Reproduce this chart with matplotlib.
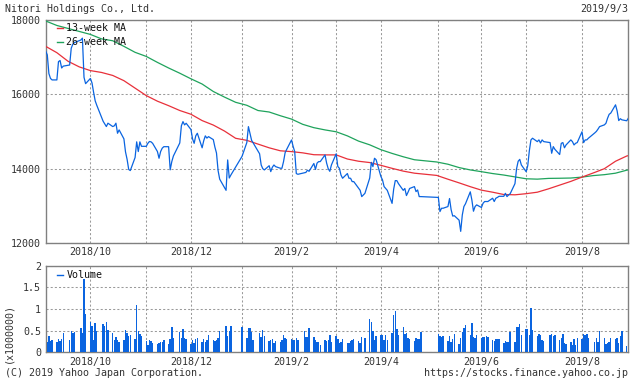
import matplotlib
matplotlib.use('Agg')
import matplotlib.pyplot as plt
import pandas as pd

# ---------------- data ----------------
holidays = ['2018-09-17', '2018-09-24', '2018-10-08', '2018-11-23', '2018-12-24',
            '2018-12-31', '2019-01-01', '2019-01-02', '2019-01-03', '2019-01-14',
            '2019-02-11', '2019-03-21', '2019-04-29', '2019-04-30', '2019-05-01',
            '2019-05-02', '2019-05-03', '2019-05-06', '2019-07-15', '2019-08-12']
trading_days = pd.bdate_range('2018-09-03', '2019-09-03').difference(pd.to_datetime(holidays))

close_sep18 = [17150, 17050, 16550, 16420, 16380, 16380, 16870, 16900, 16700, 16750,
               16780, 17230, 17340, 17380, 17450, 17500, 16450, 16280]
close_oct18 = [16420, 16300, 16050, 15820, 15700, 15270, 15200, 15130, 15220, 15130,
               15150, 15220, 14950, 15040, 14800, 14450, 14250, 13980, 13950, 14300,
               14720, 14460]
close_nov18 = [14720, 14600, 14600, 14680, 14730, 14720, 14680, 14460, 14280, 14460,
               14550, 14590, 14590, 13970, 14190, 14340, 14690, 15150, 15263, 15175,
               15218]
close_dec18 = [15050, 14800, 14680, 14880, 14950, 14560, 14750, 14880, 14820, 14860,
               14780, 14580, 14420, 13950, 13720, 13420, 14235, 13750, 13830]
close_jan19 = [14330, 14700, 15128, 14950, 14760, 14690, 14400, 14100, 14000, 13967,
               14080, 13922, 14040, 14100, 14056, 14012, 14012, 14190, 14430]
close_feb19 = [14520, 14770, 14600, 14458, 13870, 13850, 13890, 13900, 13960, 13930,
               14140, 13980, 14150, 14190, 14190, 14370, 14150, 14000, 13930]
close_mar19 = [14100, 14400, 14060, 14010, 13830, 13744, 13870, 13744, 13744, 13654,
               13654, 13480, 13420, 13252, 13340, 13750, 14170, 14056, 14280, 14240]
close_apr19 = [13790, 13700, 13520, 13470, 13420, 13070, 13450, 13680, 13680, 13600,
               13420, 13470, 13280, 13370, 13470, 13520, 13386, 13430, 13252, 13252]
close_may19 = [13230, 12850, 12940, 12940, 12985, 13200, 12900, 12730, 12740, 12620,
               12320, 12760, 12985, 13060, 13380, 13160, 12860, 12985, 13030]
close_jun19 = [12960, 13073, 13120, 13120, 13120, 13208, 13120, 13208, 13230, 13260,
               13260, 13340, 13252, 13296, 13330, 13600, 14000, 14200, 14250, 14100]
close_jul19 = [13920, 14080, 14480, 14772, 14817, 14726, 14772, 14690, 14772, 14726,
               14700, 14414, 14592, 14520, 14380, 14680, 14700, 14560, 14637, 14772,
               14726, 14637]
close_aug19 = [14682, 14700, 14990, 14700, 14772, 14772, 14817, 14960, 15000, 15060,
               15128, 15175, 15218, 15352, 15458, 15490, 15712, 15550, 15290, 15340,
               15310]
close_sep19 = [15285, 15352]
close = (close_sep18 + close_oct18 + close_nov18 + close_dec18 + close_jan19 + close_feb19 +
         close_mar19 + close_apr19 + close_may19 + close_jun19 + close_jul19 + close_aug19 +
         close_sep19)

# volume in units of 1,000,000 shares
vol_sep18 = [0.25, 0.24, 0.38, 0.26, 0.28, 0.24, 0.30, 0.26, 0.31, 0.45,
             0.28, 0.50, 0.45, 0.48, 0.56, 0.45, 1.68, 0.88]
vol_oct18 = [0.70, 0.60, 0.28, 0.68, 0.50, 0.65, 0.60, 0.70, 0.52, 0.45,
             0.28, 0.36, 0.28, 0.25, 0.28, 0.52, 0.45, 0.38, 0.41, 0.31,
             1.09, 0.50]
vol_nov18 = [0.42, 0.38, 0.26, 0.16, 0.28, 0.26, 0.22, 0.19, 0.21, 0.24,
             0.24, 0.28, 0.19, 0.31, 0.58, 0.32, 0.47, 0.33, 0.54, 0.33, 0.30]
vol_dec18 = [0.19, 0.28, 0.22, 0.31, 0.32, 0.24, 0.31, 0.24, 0.28, 0.40,
             0.28, 0.26, 0.28, 0.33, 0.49, 0.61, 0.38, 0.49, 0.61]
vol_jan19 = [0.58, 0.33, 0.56, 0.56, 0.47, 0.28, 0.45, 0.35, 0.52, 0.38,
             0.26, 0.28, 0.31, 0.22, 0.26, 0.24, 0.28, 0.40, 0.33]
vol_feb19 = [0.31, 0.31, 0.28, 0.28, 0.33, 0.28, 0.49, 0.35, 0.35, 0.56,
             0.35, 0.28, 0.24, 0.24, 0.17, 0.28, 0.26, 0.28, 0.40]
vol_mar19 = [0.24, 0.38, 0.31, 0.22, 0.24, 0.31, 0.22, 0.22, 0.26, 0.28,
             0.31, 0.26, 0.22, 0.35, 0.33, 0.77, 0.70, 0.49, 0.28, 0.38]
vol_apr19 = [0.40, 0.40, 0.28, 0.40, 0.28, 0.45, 0.86, 0.95, 0.54, 0.40,
             0.58, 0.42, 0.45, 0.33, 0.31, 0.26, 0.33, 0.31, 0.31, 0.47]
vol_may19 = [0.42, 0.38, 0.35, 0.38, 0.26, 0.38, 0.24, 0.31, 0.42, 0.19,
             0.33, 0.47, 0.56, 0.63, 0.40, 0.68, 0.35, 0.33, 0.40]
vol_jun19 = [0.33, 0.35, 0.35, 0.38, 0.35, 0.28, 0.26, 0.31, 0.31, 0.31,
             0.22, 0.26, 0.24, 0.24, 0.47, 0.24, 0.58, 0.58, 0.65, 0.40]
vol_jul19 = [0.54, 0.54, 0.40, 1.02, 0.51, 0.38, 0.42, 0.40, 0.28, 0.26,
             0.40, 0.42, 0.38, 0.40, 0.28, 0.33, 0.42, 0.22, 0.19, 0.24,
             0.17, 0.31]
vol_aug19 = [0.17, 0.33, 0.31, 0.42, 0.40, 0.42, 0.33, 0.24, 0.33, 0.24,
             0.49, 0.33, 0.19, 0.22, 0.24, 0.33, 0.31, 0.33, 0.22, 0.38, 0.49]
vol_sep19 = [0.15, 0.17]
volume = (vol_sep18 + vol_oct18 + vol_nov18 + vol_dec18 + vol_jan19 + vol_feb19 +
          vol_mar19 + vol_apr19 + vol_may19 + vol_jun19 + vol_jul19 + vol_aug19 + vol_sep19)

# moving averages read weekly (Mondays from 2018-09-03) plus the last day
ma_dates = list(pd.date_range('2018-09-03', periods=53, freq='7D')) + [pd.Timestamp('2019-09-03')]
ma13 = [17280, 17110, 16880, 16730, 16630, 16580, 16500, 16360, 16160, 15960,
        15810, 15690, 15560, 15460, 15290, 15170, 15010, 14815, 14760, 14660,
        14560, 14480, 14458, 14425, 14375, 14370, 14370, 14260, 14200, 14165,
        14090, 14010, 13935, 13880, 13850, 13820, 13718, 13620, 13518, 13425,
        13370, 13308, 13300, 13330, 13370, 13460, 13560, 13660, 13775, 13885,
        14000, 14200, 14340, 14350]
ma26 = [17960, 17840, 17760, 17680, 17600, 17480, 17430, 17280, 17120, 17010,
        16850, 16700, 16560, 16410, 16270, 16070, 15920, 15780, 15700, 15560,
        15520, 15420, 15330, 15190, 15100, 15040, 14990, 14880, 14740, 14640,
        14510, 14410, 14320, 14240, 14210, 14180, 14120, 14030, 13967, 13920,
        13870, 13830, 13780, 13730, 13720, 13740, 13744, 13750, 13775, 13815,
        13840, 13880, 13960, 13967]

grid_dates = ['2018-10-01', '2018-11-05', '2018-12-03', '2019-01-04', '2019-02-04',
              '2019-03-04', '2019-04-01', '2019-05-07', '2019-06-03', '2019-07-01',
              '2019-08-05']
grid_labels = ['2018/10', '', '2018/12', '', '2019/2', '', '2019/4', '', '2019/6', '', '2019/8']
price_ticks = [12000, 14000, 16000, 18000]
vol_ticks = [0, 0.5, 1, 1.5, 2]
vol_tick_labels = ['0', '0.5', '1', '1.5', '2']

title = 'Nitori Holdings Co., Ltd.'
date_text = '2019/9/3'
footer_left = '(C) 2019 Yahoo Japan Corporation.'
footer_right = 'https://stocks.finance.yahoo.co.jp'

# ---------------- style ----------------
W, H = 630, 382
FS = 7.2
TXT = '#333333'
BLUE = '#0a64e0'
RED = '#e8303a'
GREEN = '#1fa35c'
FRAME = '#808080'
GRID = '#9a9a9a'

plt.rcParams['font.family'] = ['DejaVu Sans Mono']
plt.rcParams['font.size'] = FS

fig = plt.figure(figsize=(W / 100, H / 100), dpi=100)


def fx(px):
    return px / W


def fy(py):
    return 1 - py / H


def add_axes(l, t, r, b):
    return fig.add_axes([fx(l), fy(b), fx(r) - fx(l), fy(t) - fy(b)])


AX_L, AX_R = 45.7, 628.3
ax = add_axes(AX_L, 19.5, AX_R, 243.3)
ax2 = add_axes(AX_L, 265.5, AX_R, 352.4)

xmin = pd.Timestamp('2018-09-03')
xmax = pd.Timestamp('2019-09-03')
gd = pd.to_datetime(grid_dates)

for a in (ax, ax2):
    a.set_xlim(xmin, xmax)
    a.set_xticks(gd)
    a.set_xticklabels(grid_labels)
    for s in a.spines.values():
        s.set_color(FRAME)
        s.set_linewidth(1.0)
    a.grid(True, color=GRID, linestyle=(0, (2.0, 2.0)), linewidth=0.75)
    a.tick_params(length=0, colors=TXT, labelsize=FS)
    a.tick_params(axis='x', pad=3.0)
    a.tick_params(axis='y', pad=3.4)
    a.set_axisbelow(True)

# price panel
ax.set_ylim(12000, 18000)
ax.set_yticks(price_ticks)
ax.set_yticklabels([str(v) for v in price_ticks])
ax.plot(ma_dates, ma26, color=GREEN, linewidth=0.9, zorder=3)
ax.plot(ma_dates, ma13, color=RED, linewidth=0.9, zorder=3)
ax.plot(trading_days, close, color=BLUE, linewidth=0.9, zorder=4)


def legend_item(a, top, bottom, py, color, label):
    t = a.transAxes
    span = AX_R - AX_L
    row_y = 1 - (py - top) / (bottom - top)
    a.plot([(57 - AX_L) / span, (63 - AX_L) / span], [row_y, row_y], transform=t,
           color=color, linewidth=1.0, zorder=6, clip_on=False)
    a.text((66.5 - AX_L) / span, row_y, label, transform=t, va='center', ha='left',
           color='#111111', fontsize=FS, zorder=7)


legend_item(ax, 19.5, 243.3, 28.3, RED, '13-week MA')
legend_item(ax, 19.5, 243.3, 41.7, GREEN, '26-week MA')

# volume panel
ax2.set_ylim(0, 2)
ax2.set_yticks(vol_ticks)
ax2.set_yticklabels(vol_tick_labels)
ax2.bar(trading_days, volume, width=0.9, color=BLUE, linewidth=0, zorder=3)
legend_item(ax2, 265.5, 352.4, 275.3, BLUE, 'Volume')

# texts
fig.text(fx(5), fy(9), title, ha='left', va='center', color=TXT, fontsize=FS)
fig.text(fx(628), fy(9), date_text, ha='right', va='center', color=TXT, fontsize=FS)
fig.text(fx(5), fy(373.5), footer_left, ha='left', va='center', color=TXT, fontsize=FS)
fig.text(fx(628), fy(373.5), footer_right, ha='right', va='center', color=TXT, fontsize=FS)
fig.text(fx(8), fy(333), '(x1000000)', rotation=90, ha='center', va='center',
         color=TXT, fontsize=FS)

fig.savefig('out.png', dpi=100)
